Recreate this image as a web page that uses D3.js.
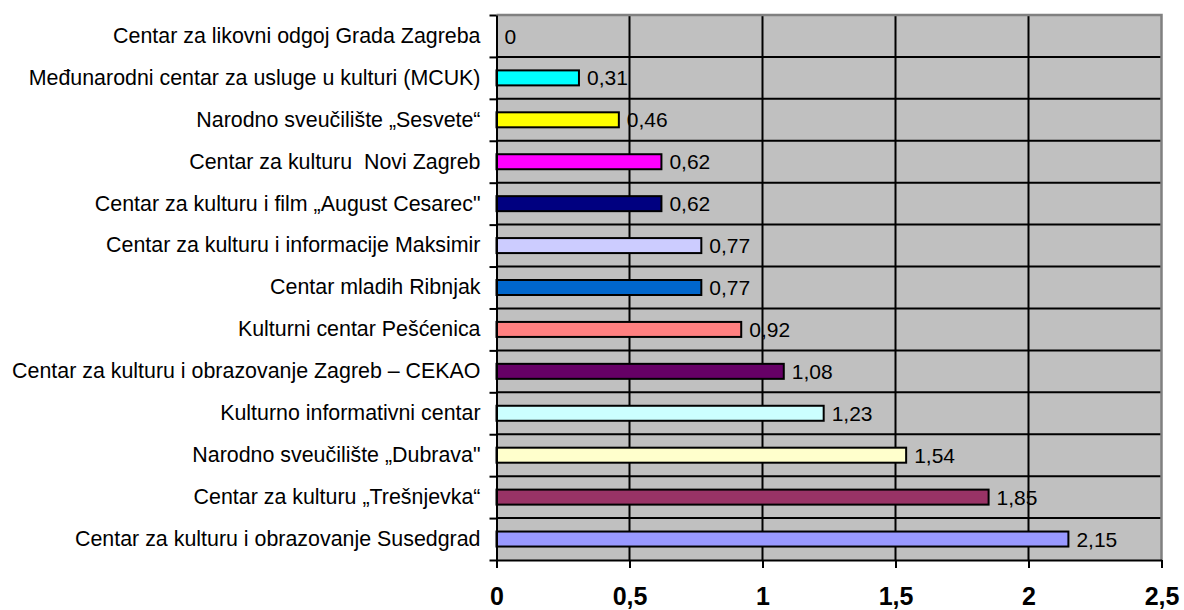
<!DOCTYPE html>
<html>
<head>
<meta charset="utf-8">
<script src="https://cdn.jsdelivr.net/npm/d3@7"></script>
<style>
  body { margin: 0; background: #fff; }
  text { font-family: "Liberation Sans", Arial, sans-serif; white-space: pre; }
</style>
</head>
<body>
<script>
'use strict';

// categories, top to bottom
const categories = [
  "Centar za likovni odgoj Grada Zagreba",
  "Međunarodni centar za usluge u kulturi (MCUK)",
  "Narodno sveučilište „Sesvete“",
  "Centar za kulturu  Novi Zagreb",
  "Centar za kulturu i film „August Cesarec\"",
  "Centar za kulturu i informacije Maksimir",
  "Centar mladih Ribnjak",
  "Kulturni centar Pešćenica",
  "Centar za kulturu i obrazovanje Zagreb – CEKAO",
  "Kulturno informativni centar",
  "Narodno sveučilište „Dubrava\"",
  "Centar za kulturu „Trešnjevka“",
  "Centar za kulturu i obrazovanje Susedgrad"
];
const values = [0, 0.31, 0.46, 0.62, 0.62, 0.77, 0.77, 0.92, 1.08, 1.23, 1.54, 1.85, 2.15];
const barColors = ["#c0c0c0", "#00ffff", "#ffff00", "#ff00ff", "#000080", "#ccccff", "#0066cc",
  "#ff8080", "#660066", "#ccffff", "#ffffcc", "#993366", "#9999ff"];
const xTicks = [0, 0.5, 1, 1.5, 2, 2.5];

(function () {
  const W = 1184, H = 610;
  const left = 496.5, right = 1161.5, top = 15, bottom = 560;

  const svg = d3.select('body').append('svg')
    .attr('width', W)
    .attr('height', H);

  const x = d3.scaleLinear().domain([0, 2.5]).range([left, right]);
  const y = d3.scaleBand().domain(categories).range([top, bottom]);
  // boundary scale for the category separators / tick marks
  const yb = d3.scaleLinear().domain([0, categories.length]).range([top, bottom]);

  const fmt = (v) => String(v).replace('.', ',');

  // plot background
  svg.append('rect')
    .attr('x', left).attr('y', top)
    .attr('width', right - left).attr('height', bottom - top)
    .attr('fill', '#c0c0c0');

  // value labels (drawn beneath the grid lines like the original)
  svg.append('g').selectAll('text')
    .data(categories)
    .enter()
    .append('text')
    .attr('x', (d, i) => x(values[i]) + 8)
    .attr('y', (d) => y(d) + y.bandwidth() / 2)
    .attr('dy', '0.36em')
    .style('font-size', '21px')
    .attr('fill', '#000')
    .text((d, i) => fmt(values[i]));

  // horizontal grid lines at category boundaries
  svg.append('g').selectAll('line')
    .data(d3.range(1, categories.length))
    .enter()
    .append('line')
    .attr('x1', left).attr('x2', right)
    .attr('y1', (d) => yb(d)).attr('y2', (d) => yb(d))
    .attr('stroke', '#000')
    .attr('stroke-width', 2);

  // vertical grid lines
  svg.append('g').selectAll('line')
    .data(xTicks.slice(1, -1))
    .enter()
    .append('line')
    .attr('x1', (d) => x(d)).attr('x2', (d) => x(d))
    .attr('y1', top).attr('y2', bottom)
    .attr('stroke', '#000')
    .attr('stroke-width', 2);

  // plot border (top / right)
  svg.append('path')
    .attr('d', `M${left},${top}H${right}V${bottom}`)
    .attr('fill', 'none')
    .attr('stroke', '#808080')
    .attr('stroke-width', 2.5);

  // bars
  const barH = 15;
  svg.append('g').selectAll('rect')
    .data(categories.filter((d, i) => values[i] > 0))
    .enter()
    .append('rect')
    .attr('x', x(0))
    .attr('y', (d) => y(d) + y.bandwidth() / 2 - barH / 2)
    .attr('width', (d) => x(values[categories.indexOf(d)]) - x(0))
    .attr('height', barH)
    .attr('fill', (d) => barColors[categories.indexOf(d)])
    .attr('stroke', '#000')
    .attr('stroke-width', 2);

  // x axis
  const xAxis = d3.axisBottom(x)
    .tickValues(xTicks)
    .tickFormat(fmt)
    .tickSizeInner(8)
    .tickSizeOuter(0)
    .tickPadding(19);
  const gx = svg.append('g')
    .attr('transform', `translate(0,${bottom})`)
    .call(xAxis);
  gx.selectAll('line, path').attr('stroke', '#000').attr('stroke-width', 2);
  gx.selectAll('text')
    .style('font-family', '"Liberation Sans", Arial, sans-serif')
    .style('font-size', '25px')
    .style('font-weight', 'bold')
    .attr('fill', '#000');

  // y axis: tick marks at boundaries
  const yTickAxis = d3.axisLeft(yb)
    .tickValues(d3.range(0, categories.length + 1))
    .tickFormat('')
    .tickSizeInner(7)
    .tickSizeOuter(0);
  const gyt = svg.append('g')
    .attr('transform', `translate(${left},0)`)
    .call(yTickAxis);
  gyt.selectAll('line, path').attr('stroke', '#000').attr('stroke-width', 2);

  // y axis: category labels
  const yAxis = d3.axisLeft(y).tickSize(0).tickPadding(16);
  const gy = svg.append('g')
    .attr('transform', `translate(${left},0)`)
    .call(yAxis);
  gy.select('.domain').remove();
  gy.selectAll('text')
    .style('font-family', '"Liberation Sans", Arial, sans-serif')
    .style('font-size', '21.4px')
    .style('white-space', 'pre')
    .attr('fill', '#000');
})();
</script>
</body>
</html>
